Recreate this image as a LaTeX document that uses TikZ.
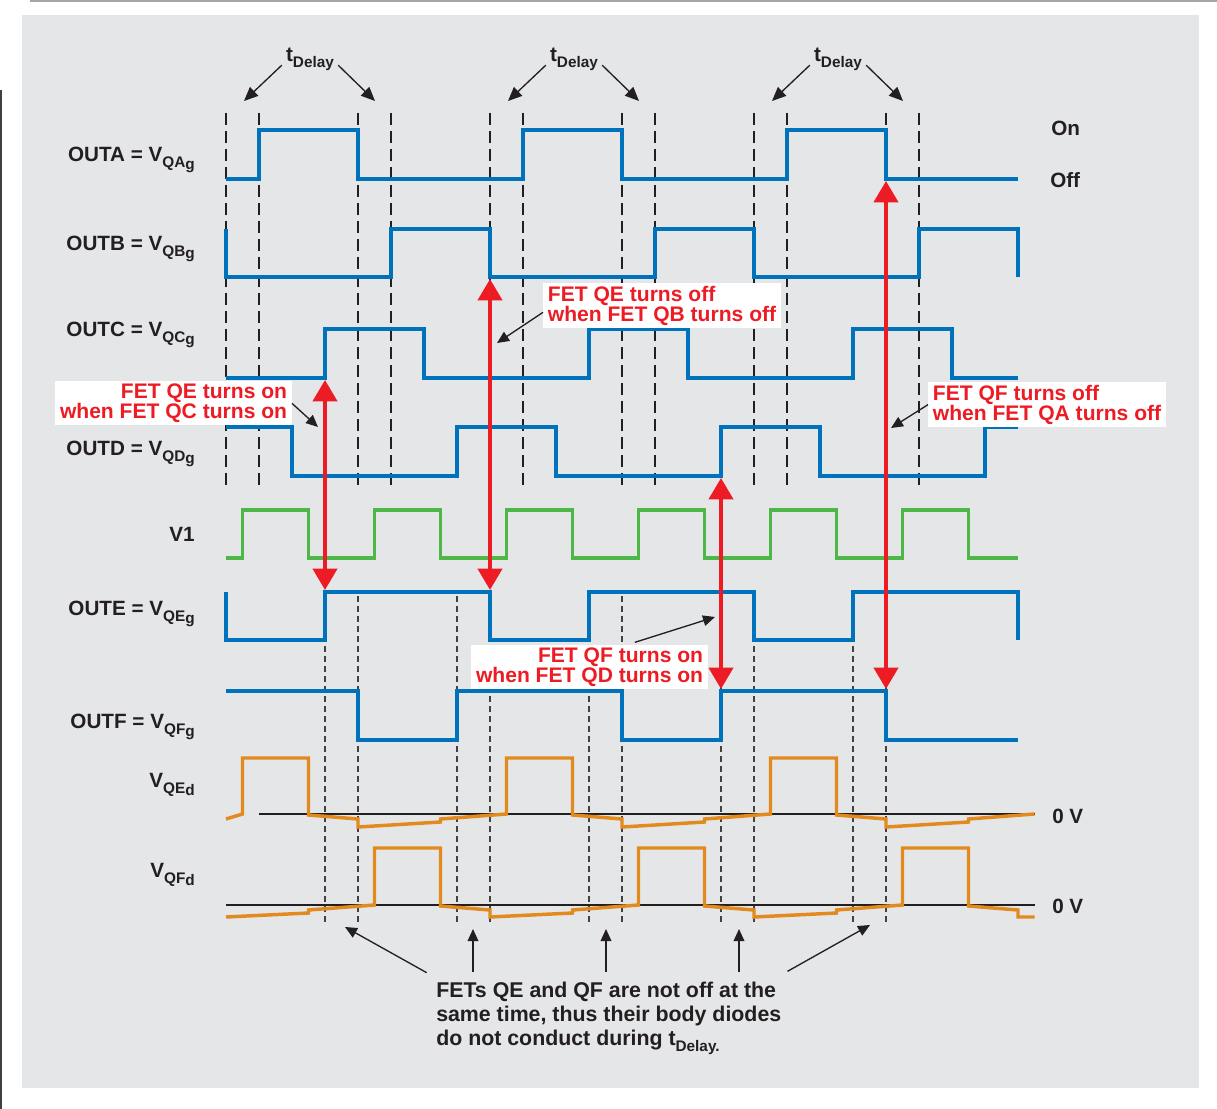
\documentclass[tikz,border=0pt]{standalone}
\usepackage{fontspec}
\setmainfont{Liberation Sans}
\usetikzlibrary{arrows.meta}
\definecolor{bggray}{HTML}{E5E6E8}
\definecolor{wblue}{HTML}{0072BC}
\definecolor{wgreen}{HTML}{4DB848}
\definecolor{worange}{HTML}{E38A1E}
\definecolor{wred}{HTML}{ED1C24}
\definecolor{ink}{HTML}{231F20}
\newcommand{\lowsub}[2][4.5pt]{\raisebox{-#1}{\fontsize{11.5}{11.5}\selectfont #2}}

\begin{document}
\begin{tikzpicture}[x=0.75pt,y=-0.75pt]
\tikzset{
  bluewave/.style = {draw=wblue, line width=2.6pt},
  greenwave/.style = {draw=wgreen, line width=2.4pt},
  orangewave/.style = {draw=worange, line width=2.6pt},
  tdash/.style = {draw=ink, line width=1.8pt, dash pattern=on 9pt off 4.5pt},
  fdash/.style = {draw=ink!85, line width=0.8pt, dash pattern=on 4.5pt off 3pt},
  zeroline/.style = {draw=ink, line width=1pt},
  redarrow/.style = {draw=wred, line width=3pt, >={Triangle[length=16pt,width=18pt]}, <->},
  pointer/.style = {draw=ink, line width=1pt, >={Triangle[length=9pt,width=8pt]}, ->},
  sig/.style = {text=ink, inner sep=0pt, font=\bfseries\fontsize{15.5}{18}\selectfont},
  redlbl/.style = {fill=white, text=wred, inner xsep=3.5pt, inner ysep=2pt,
    font=\bfseries\fontsize{15.8}{15}\selectfont}
}
\useasboundingbox (0,0) rectangle (1217,1109);
\fill[bggray] (22,15) rectangle (1199,1088);
\draw[black!35, line width=1.2pt] (30,1) -- (1217,1);
\draw[black!75, line width=1.5pt] (1,90) -- (1,1109);

\begin{scope}[shift={(226,0)}, x=24.75pt]
\foreach \k in {0,1,4,5,8,9,12,13,16,17,20,21}
  \draw[tdash] (\k,113) -- (\k,490);
\foreach \k in {3,4,7,8,11,12,15,16,19,20}
  \draw[fdash] (\k,596) -- (\k,922);
\draw[zeroline] (1,814) -- (24.5,814);
\draw[zeroline] (0,905) -- (24.5,905);

\draw[bluewave] (0,179) -| (1,130) -| (4,179) -| (9,130) -| (12,179) -| (17,130) -| (20,179) -- (24,179);
\draw[bluewave] (0,229) -- (0,277) -| (5,229) -| (8,277) -| (13,229) -| (16,277) -| (21,229) -| (24,277);
\draw[bluewave] (0,378) -| (3,329) -| (6,378) -| (11,329) -| (14,378) -| (19,329) -| (22,378) -- (24,378);
\draw[bluewave] (0,427) -| (2,476) -| (7,427) -| (10,476) -| (15,427) -| (18,476) -| (23,427) -- (24,427);
\draw[greenwave] (0,558) \foreach \s in {0,4,...,20} { -| (\s+0.5,510) -| (\s+2.5,558) } -- (24,558);
\draw[bluewave] (0,592) -- (0,640) -| (3,592) -| (8,640) -| (11,592) -| (16,640) -| (19,592) -| (24,640);
\draw[bluewave] (0,691) -| (4,740) -| (7,691) -| (12,740) -| (15,691) -| (20,740) -- (24,740);
\draw[orangewave] (0,819) \foreach \s in {0,8,16} { -- (\s+0.5,814) -- (\s+0.5,758) -- (\s+2.5,758)
  -- (\s+2.5,815) -- (\s+4,819) -- (\s+4,827) -- (\s+6.5,822) -- (\s+6.5,819) } -- (24.5,814);
\draw[orangewave] (0,917) -- (2.5,913) -- (2.5,910) \foreach \s in {4.5,12.5} { -- (\s,905) -- (\s,848)
  -- (\s+2,848) -- (\s+2,906) -- (\s+3.5,910) -- (\s+3.5,917) -- (\s+6,913) -- (\s+6,910) }
  -- (20.5,905) -- (20.5,848) -- (22.5,848) -- (22.5,906) -- (24,910) -- (24,917) -- (24.5,917);

\coordinate (cLow) at (3,380);
\coordinate (eHigh1) at (3,590);
\coordinate (bLow) at (8,279);
\coordinate (eHigh2) at (8,590);
\coordinate (dLow) at (15,478);
\coordinate (fHigh1) at (15,689);
\coordinate (aLow) at (20,181);
\coordinate (fHigh2) at (20,689);
\draw[redarrow] (cLow) -- (eHigh1);
\draw[redarrow] (bLow) -- (eHigh2);
\draw[redarrow] (dLow) -- (fHigh1);
\draw[redarrow] (aLow) -- (fHigh2);
\end{scope}

\node[sig, anchor=base east] (outa) at (195,162) {OUTA = V\lowsub{QA\lowsub[1.5pt]{g}}};
\node[sig, anchor=base east] (outb) at (195,251) {OUTB = V\lowsub{QB\lowsub[1.5pt]{g}}};
\node[sig, anchor=base east] (outc) at (195,336) {OUTC = V\lowsub{QC\lowsub[1.5pt]{g}}};
\node[sig, anchor=base east] (outd) at (195,455) {OUTD = V\lowsub{QD\lowsub[1.5pt]{g}}};
\node[sig, anchor=base east] (vone) at (195,541) {V1};
\node[sig, anchor=base east] (oute) at (195,615) {OUTE = V\lowsub{QE\lowsub[1.5pt]{g}}};
\node[sig, anchor=base east] (outf) at (195,728) {OUTF = V\lowsub{QF\lowsub[1.5pt]{g}}};
\node[sig, anchor=base east] (vqed) at (195,787) {V\lowsub{QE\lowsub[1.5pt]{d}}};
\node[sig, anchor=base east] (vqfd) at (195,877) {V\lowsub{QF\lowsub[1.5pt]{d}}};
\node[sig, anchor=base west] (on) at (1051,136) {On};
\node[sig, anchor=base west] (off) at (1050,188) {Off};
\node[sig, anchor=base west] (zeroe) at (1052,823) {0 V};
\node[sig, anchor=base west] (zerof) at (1052,913) {0 V};

\foreach \i/\x in {1/310,2/574,3/838} {
  \node[sig, inner sep=3pt, anchor=base] (td\i) at (\x,62) {t\lowsub{Delay}};
  \coordinate (dl\i) at (\x-66,101);
  \coordinate (dr\i) at (\x+65,101);
  \draw[pointer, >={Triangle[length=10.5pt,width=9pt]}] ([yshift=-4pt]td\i.west) -- (dl\i);
  \draw[pointer, >={Triangle[length=10.5pt,width=9pt]}] ([yshift=-4pt]td\i.east) -- (dr\i);
}

\node[redlbl, align=right, anchor=north east] (qeon) at (292,381) {FET QE turns on\\when FET QC turns on};
\node[redlbl, align=left, anchor=north west] (qeoff) at (543,283) {FET QE turns off\\when FET QB turns off};
\node[redlbl, align=left, anchor=north west] (qfoff) at (928,382) {FET QF turns off\\when FET QA turns off};
\node[redlbl, align=right, anchor=north east] (qfon) at (708,645) {FET QF turns on\\when FET QD turns on};
\coordinate (p1) at (318,427);
\coordinate (p2) at (497,343);
\coordinate (p3) at (891,428);
\coordinate (p4) at (715,617);
\draw[pointer] (qeon.east) -- (p1);
\draw[pointer] ([yshift=-5pt]qeoff.west) -- (p2);
\draw[pointer] (qfoff.west) -- (p3);
\draw[pointer] ([xshift=34pt,yshift=2pt]qfon.north) -- (p4);

\node[sig, font=\bfseries\fontsize{16}{18}\selectfont, align=left, anchor=north west] (note) at (436,982)
  {FETs QE and QF are not off at the\\same time, thus their body diodes\\do not conduct during t\lowsub{Delay.}};
\coordinate (b1) at (345,927);
\coordinate (b2) at (473,929);
\coordinate (b3) at (606,929);
\coordinate (b4) at (739,929);
\coordinate (b5) at (870,925);
\draw[pointer] ([xshift=-7pt,yshift=7pt]note.north west) -- (b1);
\draw[pointer] ([yshift=7.5pt]b2 |- note.north) -- (b2);
\draw[pointer] ([yshift=7.5pt]b3 |- note.north) -- (b3);
\draw[pointer] ([yshift=7.5pt]b4 |- note.north) -- (b4);
\draw[pointer] ([xshift=4.5pt,yshift=8pt]note.north east) -- (b5);
\end{tikzpicture}
\end{document}
